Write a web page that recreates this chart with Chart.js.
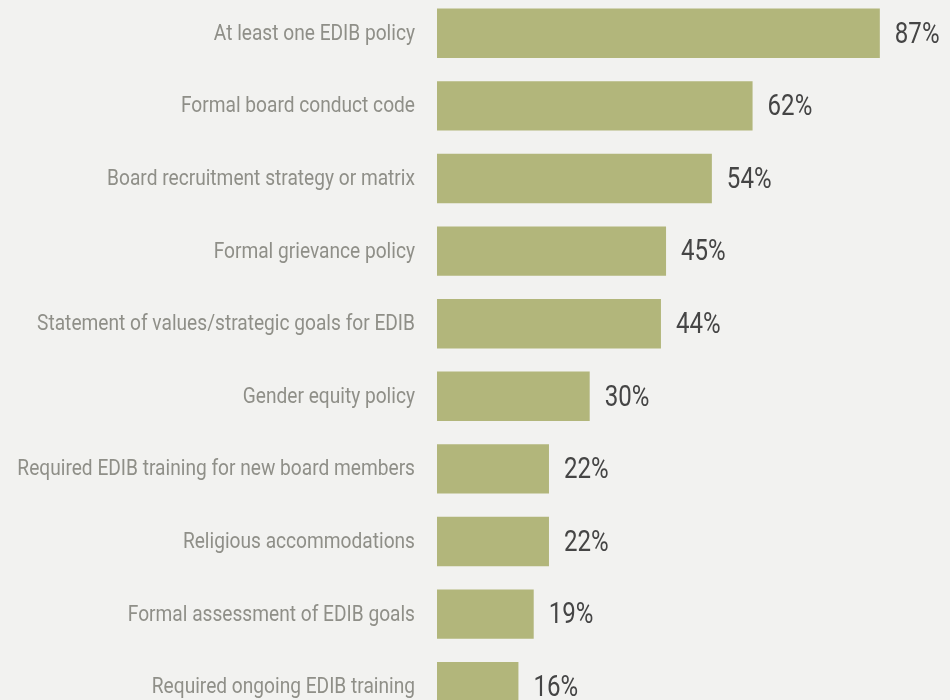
<!DOCTYPE html>
<html>
<head>
<meta charset="utf-8">
<script src="https://cdn.jsdelivr.net/npm/chart.js@4"></script>
<style>
  html, body { margin: 0; padding: 0; background: #f2f2f0; overflow: hidden; }
  #wrap { position: absolute; left: 0; top: -3px; width: 950px; height: 726px; }
</style>
</head>
<body>
<div id="wrap"><canvas id="policyChart"></canvas></div>
<script>
const policies = [
  'At least one EDIB policy',
  'Formal board conduct code',
  'Board recruitment strategy or matrix',
  'Formal grievance policy',
  'Statement of values/strategic goals for EDIB',
  'Gender equity policy',
  'Required EDIB training for new board members',
  'Religious accommodations',
  'Formal assessment of EDIB goals',
  'Required ongoing EDIB training'
];
const shares = [87, 62, 54, 45, 44, 30, 22, 22, 19, 16];

const FONT = 'Roboto, sans-serif';

// Category names and percentages, squeezed horizontally to look like a condensed face
const condensedText = {
  id: 'condensedText',
  afterDatasetsDraw(chart) {
    const ctx = chart.ctx;
    const yScale = chart.scales.y;
    const meta = chart.getDatasetMeta(0);
    ctx.save();
    ctx.textBaseline = 'middle';

    ctx.font = '22px ' + FONT;
    ctx.fillStyle = '#8f8f88';
    ctx.textAlign = 'right';
    policies.forEach((name, i) => {
      const y = yScale.getPixelForTick(i);
      ctx.save();
      ctx.translate(yScale.right - 22, y + 1);
      ctx.scale(0.87, 1);
      ctx.fillText(name, 0, 0);
      ctx.restore();
    });

    ctx.font = '29px ' + FONT;
    ctx.fillStyle = '#454545';
    ctx.textAlign = 'left';
    meta.data.forEach((bar, i) => {
      ctx.save();
      ctx.translate(bar.x + 15, bar.y + 2);
      ctx.scale(0.83, 1);
      ctx.fillText(shares[i] + '%', 0, 0);
      ctx.restore();
    });
    ctx.restore();
  }
};

new Chart(document.getElementById('policyChart'), {
  type: 'bar',
  data: {
    labels: policies,
    datasets: [{
      data: shares,
      backgroundColor: '#b2b67b',
      borderWidth: 0,
      categoryPercentage: 0.68,
      barPercentage: 1
    }]
  },
  options: {
    indexAxis: 'y',
    responsive: true,
    maintainAspectRatio: false,
    animation: false,
    layout: { padding: { left: 0, right: 4, top: 0, bottom: 0 } },
    plugins: {
      legend: { display: false },
      tooltip: { enabled: false }
    },
    scales: {
      x: {
        display: false,
        min: 0,
        max: 100
      },
      y: {
        border: { display: false },
        grid: { display: false, drawTicks: false },
        ticks: { display: false },
        afterFit(scale) { scale.width = 437; }
      }
    }
  },
  plugins: [condensedText]
});
</script>
</body>
</html>
